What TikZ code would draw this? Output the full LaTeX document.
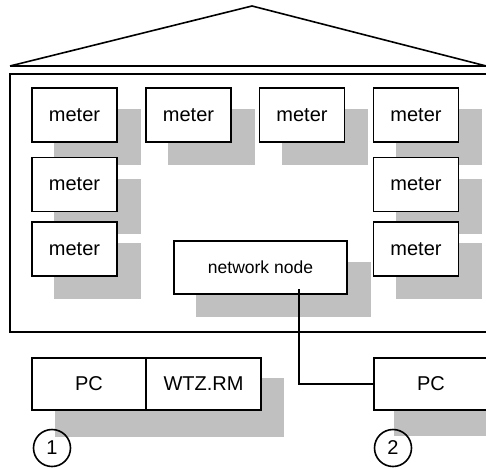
\documentclass[tikz,border=0pt]{standalone}
\usepackage{fontspec}
\setmainfont{Liberation Sans}
\usetikzlibrary{backgrounds}
\definecolor{shadowgray}{HTML}{C0C0C0}
\tikzset{
  box/.style={draw, line width=1.6pt, fill=white, inner sep=0pt,
    minimum width=85pt, minimum height=54pt, font=\fontsize{20}{24}\selectfont},
  shadowfill/.style={fill=shadowgray},
  numcircle/.style={draw, circle, line width=1.6pt, minimum size=37pt, inner sep=0pt,
    font=\fontsize{20}{24}\selectfont},
  wire/.style={line width=1.6pt}
}
\newcommand{\boxshadow}[1]{\fill[shadowfill] ([shift={(23,22)}]#1.north west) rectangle ([shift={(23,22)}]#1.south east);}
\begin{document}
\begin{tikzpicture}[x=1pt,y=-1pt]
\useasboundingbox (0,0) rectangle (486,468);
% meters
\node[box] (m11) at (74.5,115) {meter};
\node[box] (m12) at (188.5,115) {meter};
\node[box] (m13) at (302,115) {meter};
\node[box] (m14) at (416,115) {meter};
\node[box] (m21) at (74.5,184.5) {meter};
\node[box] (m24) at (416,184.5) {meter};
\node[box] (m31) at (74.5,249) {meter};
\node[box] (m34) at (416,249) {meter};
\node[box, minimum width=173pt, minimum height=53pt, font=\fontsize{17.5}{21}\selectfont] (nn) at (260.5,267.5) {network node};
% PCs
\node[box, minimum width=114pt, minimum height=52pt] (pc1) at (89,384) {PC};
\node[box, minimum width=115pt, minimum height=52pt] (wtz) at (203.5,384) {WTZ.RM};
\node[box, minimum width=114pt, minimum height=52pt] (pc2) at (431,384) {PC};
\node[numcircle] (c1) at (52,448) {1};
\node[numcircle] (c2) at (393,448) {2};
\coordinate (wtop) at (299,289);
\begin{pgfonlayer}{background}
  % building
  \draw[wire] (10,74) rectangle (492,332);
  \draw[wire] (10,66) -- (252,6) -- (487,66.2);
  \draw[wire] (10,66) -- (487,66);
  \boxshadow{m11}\boxshadow{m12}\boxshadow{m13}\boxshadow{m14}
  \boxshadow{m21}\boxshadow{m24}\boxshadow{m31}\boxshadow{m34}
  \boxshadow{nn}
  \fill[shadowfill] ([shift={(24,21)}]pc1.north west) rectangle ([shift={(22,26)}]wtz.south east);
  \fill[shadowfill] ([shift={(21,22)}]pc2.north west) rectangle ([shift={(23,25)}]pc2.south east);
\end{pgfonlayer}
\draw[wire] (wtop) |- (pc2.west);
\end{tikzpicture}
\end{document}
